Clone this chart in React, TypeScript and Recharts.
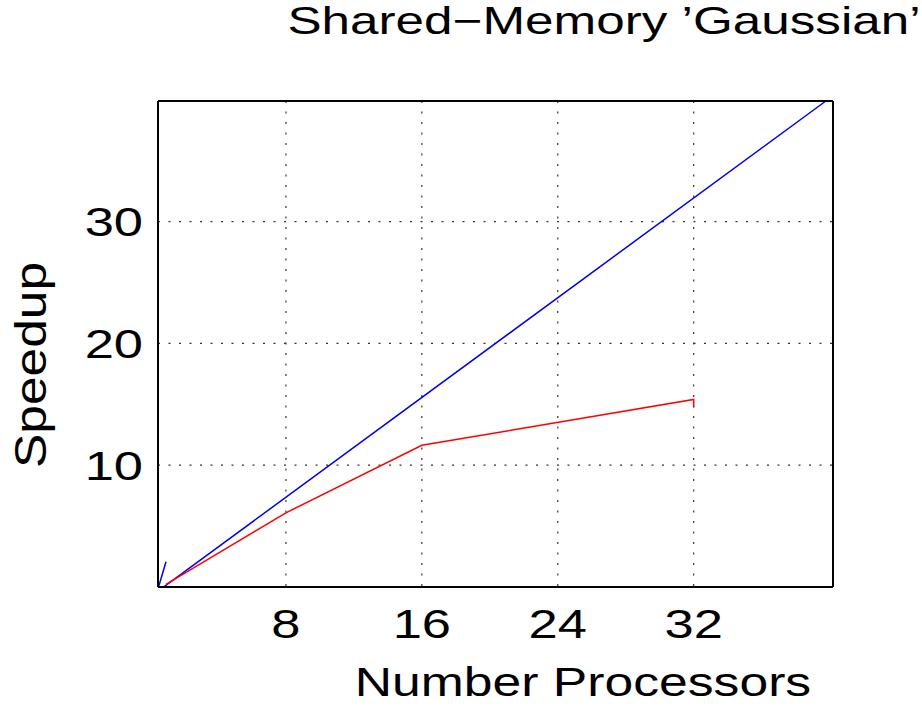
import { LineChart, Line, XAxis, YAxis, CartesianGrid } from "recharts";

// measured speedup (red) and ideal linear speedup (blue)
const measuredProcs = [0.94, 8, 16, 32, 32];
const measuredSpeedup = [0.22, 6.09, 11.63, 15.4, 14.76];

const idealProcs = [0.42, 0.94, 0.42, 39.72];
const idealSpeedup = [-0.39, 2.08, -0.39, 39.84];

const xTicks = [8, 16, 24, 32];
const yTicks = [10, 20, 30];
const xDomain = [0.47, 40.2];
const yDomain = [0, 39.9];

const title = "Shared\u2212Memory \u2019Gaussian\u2019";
const xTitle = "Number Processors";
const yTitle = "Speedup";

const measured = measuredProcs.map((x, i) => ({ x, y: measuredSpeedup[i] }));
const ideal = idealProcs.map((x, i) => ({ x, y: idealSpeedup[i] }));

const W = 922;
const H = 706;
const FONT = "'Liberation Sans', Arial, Helvetica, sans-serif";
const STRETCH = 1.28; // the original lettering is wide

const XTick = (props: any) => {
  const { x, y, payload } = props;
  return (
    <text
      transform={`translate(${x},${y}) scale(${STRETCH},1)`}
      textAnchor="middle"
      dy="0.71em"
      fontSize={41}
      fontFamily={FONT}
      fill="#000"
    >
      {payload.value}
    </text>
  );
};

const YTick = (props: any) => {
  const { x, y, payload } = props;
  return (
    <text
      transform={`translate(${x},${y}) scale(${STRETCH},1)`}
      textAnchor="end"
      dy="0.355em"
      fontSize={41}
      fontFamily={FONT}
      fill="#000"
    >
      {payload.value}
    </text>
  );
};

export default function App() {
  const frame = { stroke: "#000", strokeWidth: 2 };
  return (
    <div style={{ position: "absolute", left: 0, top: 0, width: W, height: H, background: "#fff" }}>
      <LineChart
        width={W}
        height={H}
        margin={{ top: 100, right: 88, bottom: 118, left: 157 }}
      >
        <CartesianGrid stroke="#333" strokeDasharray="2 8.5" strokeWidth={1.2} />
        <XAxis
          type="number"
          dataKey="x"
          domain={xDomain}
          ticks={xTicks}
          allowDataOverflow
          height={1}
          tickSize={0}
          tickMargin={22}
          tickLine={false}
          axisLine={frame}
          tick={<XTick />}
        />
        <XAxis
          xAxisId="top"
          orientation="top"
          type="number"
          domain={xDomain}
          allowDataOverflow
          height={1}
          tick={false}
          tickLine={false}
          axisLine={frame}
        />
        <YAxis
          type="number"
          dataKey="y"
          domain={yDomain}
          ticks={yTicks}
          allowDataOverflow
          width={1}
          tickSize={0}
          tickMargin={15}
          tickLine={false}
          axisLine={frame}
          tick={<YTick />}
        />
        <YAxis
          yAxisId="right"
          orientation="right"
          type="number"
          domain={yDomain}
          allowDataOverflow
          width={1}
          tick={false}
          tickLine={false}
          axisLine={frame}
        />
        <Line
          data={ideal}
          dataKey="y"
          type="linear"
          stroke="#0000ee"
          strokeWidth={1.5}
          dot={false}
          isAnimationActive={false}
        />
        <Line
          data={measured}
          dataKey="y"
          type="linear"
          stroke="#ff0000"
          strokeWidth={1.5}
          dot={false}
          isAnimationActive={false}
        />
      </LineChart>
      <svg
        width={W}
        height={H}
        style={{ position: "absolute", left: 0, top: 0, pointerEvents: "none" }}
      >
        <text
          transform="translate(604,34) scale(1.33,1)"
          textAnchor="middle"
          fontSize={38.5}
          fontFamily={FONT}
          fill="#000"
        >
          {title}
        </text>
        <text
          transform="translate(583,696) scale(1.26,1)"
          textAnchor="middle"
          fontSize={41}
          fontFamily={FONT}
          fill="#000"
        >
          {xTitle}
        </text>
        <text
          transform="translate(46,365) rotate(-90) scale(1.17,1)"
          textAnchor="middle"
          fontSize={44}
          fontFamily={FONT}
          fill="#000"
        >
          {yTitle}
        </text>
      </svg>
    </div>
  );
}
